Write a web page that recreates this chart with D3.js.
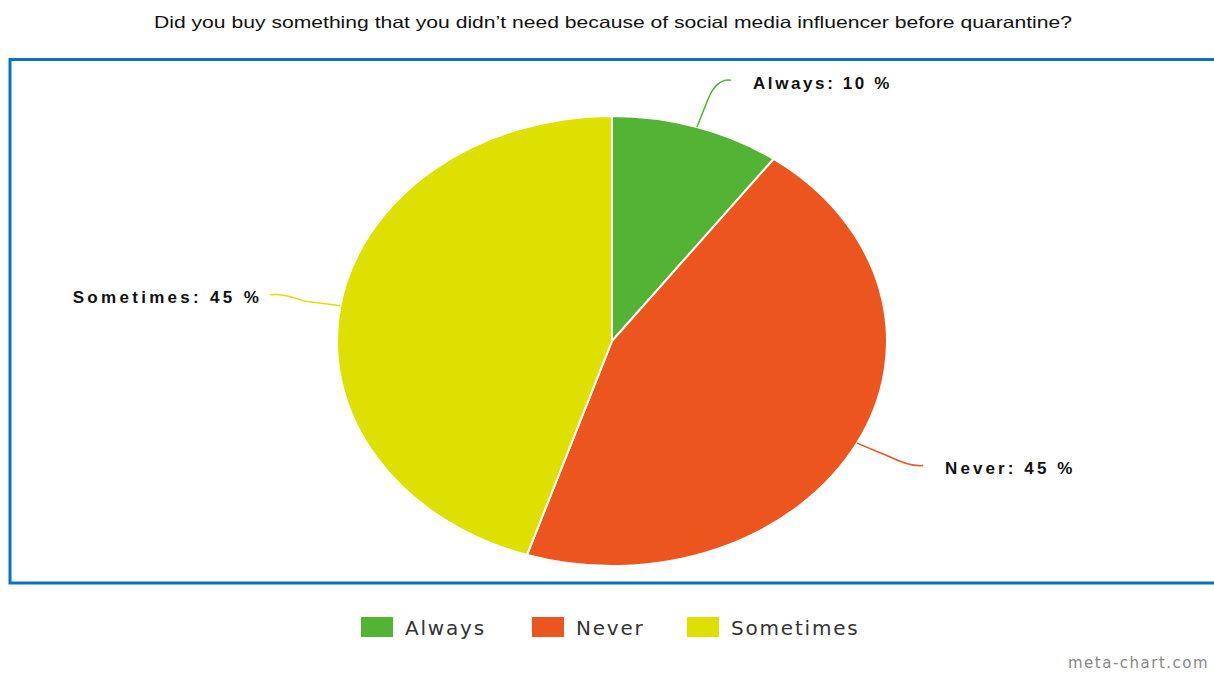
<!DOCTYPE html>
<html>
<head>
<meta charset="utf-8">
<script src="https://cdn.jsdelivr.net/npm/d3@7"></script>
<style>
  html, body { margin: 0; padding: 0; background: #fff; }
  svg { display: block; }
</style>
</head>
<body>
<svg id="chart" width="1214" height="673"></svg>
<script>
// Survey answers and their shares
const categories = ["Always", "Never", "Sometimes"];
const shares = [10, 45, 45];
const colors = ["#52b334", "#ec561e", "#dde000"];
const titleText = "Did you buy something that you didn\u2019t need because of social media influencer before quarantine?";

const W = 1214, H = 673;
const svg = d3.select("#chart");

// Title
svg.append("text")
  .attr("x", 613).attr("y", 28)
  .attr("text-anchor", "middle")
  .attr("font-family", "Liberation Sans, Arial, sans-serif")
  .attr("font-size", 16.5)
  .attr("textLength", 918)
  .attr("lengthAdjust", "spacingAndGlyphs")
  .attr("fill", "#111")
  .text(titleText);

// Frame around the plot area
svg.append("rect")
  .attr("x", 10).attr("y", 59.5)
  .attr("width", 1300).attr("height", 523.5)
  .attr("fill", "none")
  .attr("stroke", "#0a70c4")
  .attr("stroke-width", 3);

// Pie drawn as a circle then stretched into an ellipse
const cx = 612, cy = 341, rx = 275, ry = 225;
const R = 100;
const data = categories.map((c, i) => ({ name: c, value: shares[i], color: colors[i] }));
const pie = d3.pie().value(d => d.value).sort(null);
const arcs = pie(data);
const arc = d3.arc().innerRadius(0).outerRadius(R);

const g = svg.append("g")
  .attr("transform", `translate(${cx},${cy}) scale(${rx / R},${ry / R})`);
g.selectAll("path.slice")
  .data(arcs)
  .join("path")
  .attr("class", "slice")
  .attr("d", arc)
  .attr("fill", d => d.data.color)
  .attr("stroke", "#fff")
  .attr("stroke-width", 2)
  .attr("vector-effect", "non-scaling-stroke");

// Point on the ellipse at a given pie angle and radius factor
function ellipsePoint(a, f) {
  return [cx + rx * f * Math.sin(a), cy - ry * f * Math.cos(a)];
}

// Leader lines and labels
const labelSpacing = { Always: "2.6px", Never: "3.1px", Sometimes: "3.3px" };
const labels = svg.append("g");
arcs.forEach(d => {
  const mid = (d.startAngle + d.endAngle) / 2;
  const right = Math.sin(mid) > 0;
  const p0 = ellipsePoint(mid, 1.0);
  const p1 = ellipsePoint(mid, 1.2);
  const p2 = [p1[0] + (right ? 17 : -16), p1[1] + (Math.cos(mid) > 0 ? -4 : 2)];
  const ctrl = [p1[0] + (right ? 3 : -3), p1[1] + (Math.cos(mid) > 0 ? -6 : 3)];
  labels.append("path")
    .attr("d", `M${p0[0]},${p0[1]} L${(p0[0] + p1[0]*2)/3},${(p0[1] + p1[1]*2)/3} Q${ctrl[0]},${ctrl[1]} ${p2[0]},${p2[1]}`)
    .attr("fill", "none")
    .attr("stroke", d.data.color)
    .attr("stroke-width", 1.5);
  labels.append("text")
    .attr("x", right ? p2[0] + 22 : p2[0] - 8)
    .attr("y", p2[1] + 8.5)
    .attr("text-anchor", right ? "start" : "end")
    .attr("font-family", "Liberation Sans, Arial, sans-serif")
    .attr("font-weight", "bold")
    .attr("font-size", 17)
    .attr("letter-spacing", labelSpacing[d.data.name])
    .attr("fill", "#111")
    .text(`${d.data.name}: ${d.data.value} %`);
});

// Legend
const legendX = [361, 532, 687];
const legend = svg.append("g");
data.forEach((d, i) => {
  legend.append("rect")
    .attr("x", legendX[i]).attr("y", 617)
    .attr("width", 32).attr("height", 20)
    .attr("fill", d.color);
  legend.append("text")
    .attr("x", legendX[i] + 44).attr("y", 635)
    .attr("font-family", "DejaVu Sans, Verdana, sans-serif")
    .attr("font-size", 20)
    .attr("letter-spacing", "1.8px")
    .attr("fill", "#333")
    .text(d.name);
});

// Credit line
svg.append("text")
  .attr("x", 1068).attr("y", 668)
  .attr("font-family", "DejaVu Sans, Verdana, sans-serif")
  .attr("font-size", 15)
  .attr("letter-spacing", "1.5px")
  .attr("fill", "#888")
  .text("meta-chart.com");
</script>
</body>
</html>
